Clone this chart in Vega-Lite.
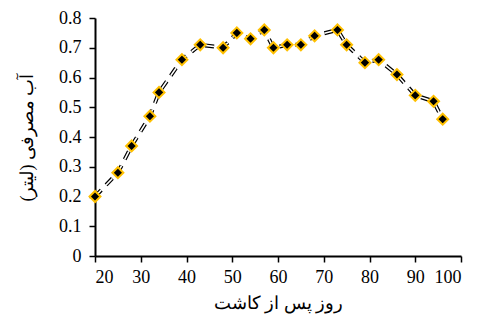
{
  "$schema": "https://vega.github.io/schema/vega-lite/v6.json",
  "autosize": "none",
  "padding": {"left": 95, "top": 18, "right": 16, "bottom": 66},
  "width": 366,
  "height": 238,
  "background": "white",
  "config": {
    "view": {"stroke": null},
    "axis": {
      "grid": false,
      "domainColor": "black",
      "domainWidth": 2,
      "tickColor": "black",
      "tickWidth": 1.5,
      "tickSize": 6,
      "labelFont": "Liberation Serif",
      "labelFontSize": 18,
      "labelColor": "black",
      "titleFont": "Liberation Serif",
      "titleFontSize": 18,
      "titleFontWeight": "normal",
      "titleColor": "black"
    }
  },
  "data": {
    "values": [
      {"day": 20, "water": 0.2},
      {"day": 25, "water": 0.28},
      {"day": 28, "water": 0.37},
      {"day": 32, "water": 0.47},
      {"day": 34, "water": 0.55},
      {"day": 39, "water": 0.66},
      {"day": 43, "water": 0.71},
      {"day": 48, "water": 0.70},
      {"day": 51, "water": 0.75},
      {"day": 54, "water": 0.73},
      {"day": 57, "water": 0.76},
      {"day": 59, "water": 0.70},
      {"day": 62, "water": 0.71},
      {"day": 65, "water": 0.71},
      {"day": 68, "water": 0.74},
      {"day": 73, "water": 0.76},
      {"day": 75, "water": 0.71},
      {"day": 79, "water": 0.65},
      {"day": 82, "water": 0.66},
      {"day": 86, "water": 0.61},
      {"day": 90, "water": 0.54},
      {"day": 94, "water": 0.52},
      {"day": 96, "water": 0.46}
    ]
  },
  "encoding": {
    "x": {
      "field": "day", "type": "quantitative",
      "scale": {"domain": [20, 100], "nice": false, "zero": false},
      "axis": {"values": [20, 30, 40, 50, 60, 70, 80, 90, 100], "title": "روز پس از کاشت", "titlePadding": 8, "labelPadding": 6}
    },
    "y": {
      "field": "water", "type": "quantitative",
      "scale": {"domain": [0, 0.8], "nice": false},
      "axis": {"values": [0, 0.1, 0.2, 0.3, 0.4, 0.5, 0.6, 0.7, 0.8], "format": "~g", "title": "آب مصرفی (لیتر)", "titlePadding": 22, "labelPadding": 8}
    }
  },
  "layer": [
    {"mark": {"type": "line", "color": "black", "strokeWidth": 4, "strokeDash": [9, 7]}},
    {"mark": {"type": "line", "color": "white", "strokeWidth": 1.6, "strokeDash": [9, 7]}},
    {"mark": {"type": "point", "shape": "diamond", "filled": true, "fill": "black", "stroke": "#FFC000", "strokeWidth": 2, "size": 120, "opacity": 1}}
  ]
}
